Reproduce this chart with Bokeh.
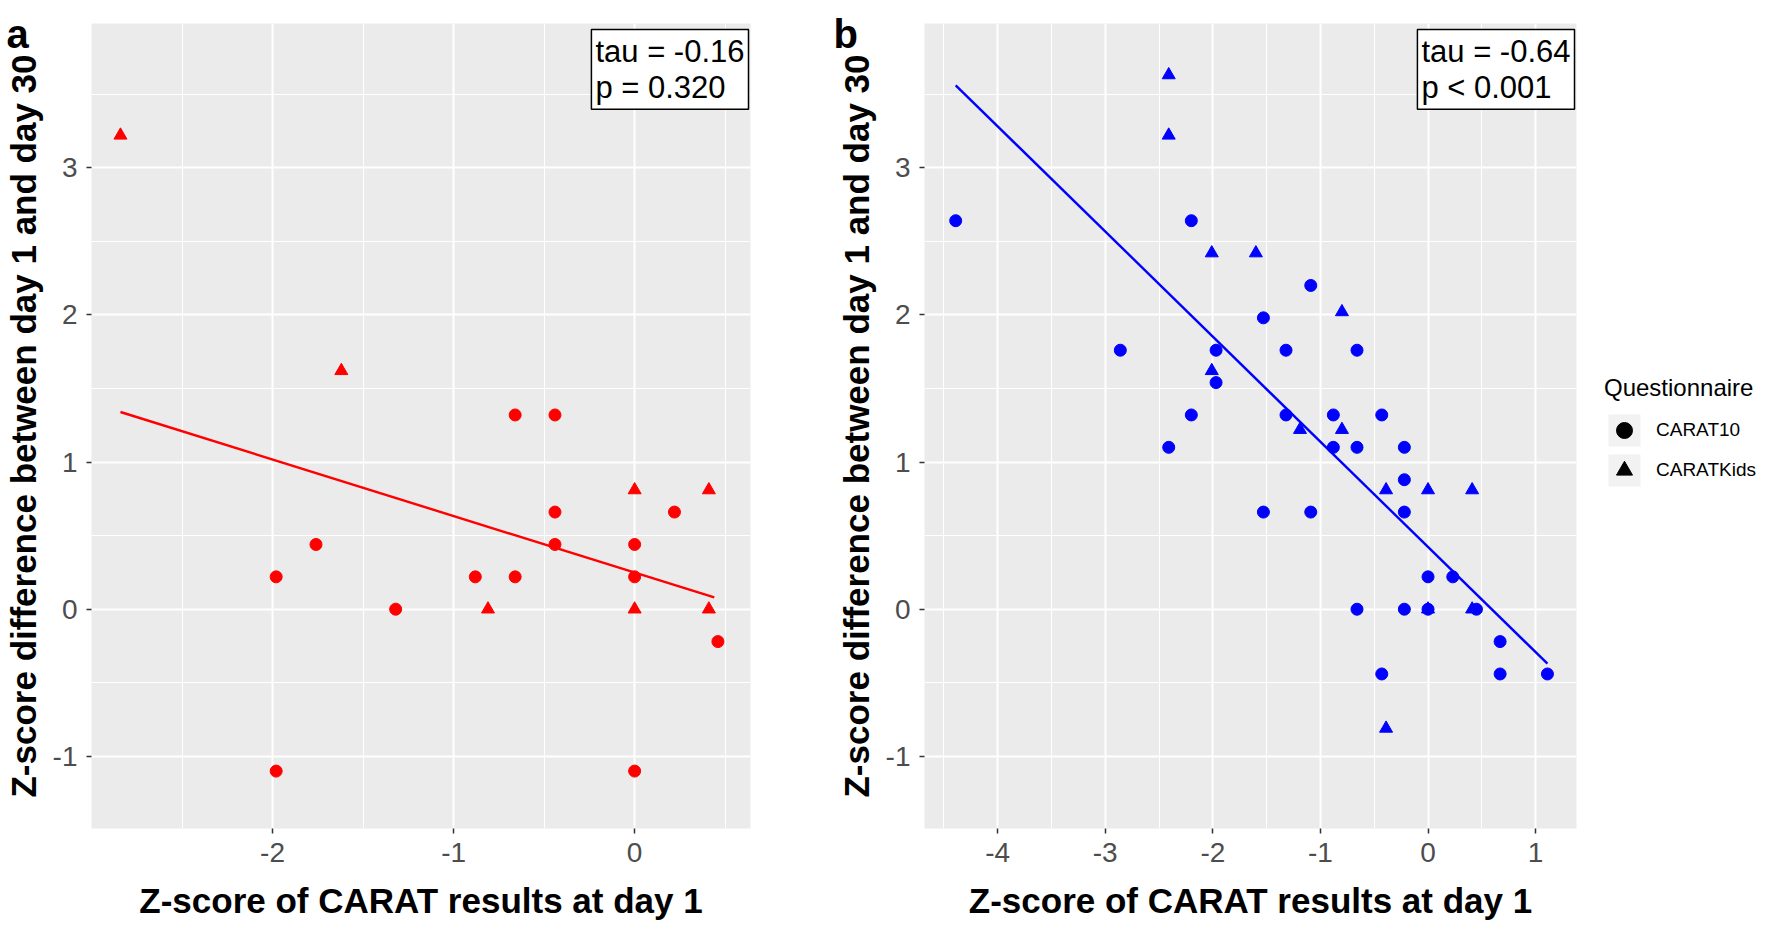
from bokeh.plotting import figure
from bokeh.models import (Range1d, FixedTicker, Label, Legend, LegendItem, Title)
from bokeh.layouts import row
from bokeh.embed import file_html
from bokeh.resources import INLINE

FONT = "Liberation Sans"

# ---------------- data ----------------
a_circle_x = [-1.98, -1.98, -1.76, -1.32, -0.88, -0.66, -0.66, -0.44, -0.44, -0.44, 0.0, 0.0, 0.0, 0.22, 0.46]
a_circle_y = [0.22, -1.10, 0.44, 0.0, 0.22, 1.32, 0.22, 1.32, 0.66, 0.44, 0.44, 0.22, -1.10, 0.66, -0.22]
a_tri_x = [-2.84, -1.62, -0.81, 0.0, 0.0, 0.41, 0.41]
a_tri_y = [3.22, 1.62, 0.0, 0.81, 0.0, 0.81, 0.0]
a_fit_x = [-2.84, 0.44]
a_fit_y = [1.34, 0.08]
a_stats = "tau = -0.16\np = 0.320"

b_circle_x = [-4.39, -2.86, -2.41, -2.20, -2.20, -1.97, -1.97, -1.53, -1.53, -1.32, -1.32, -1.09, -1.09,
              -0.88, -0.88, -0.66, -0.66, -0.66, -0.43, -0.43, -0.22, -0.22, -0.22, -0.22, 0.0, 0.0,
              0.23, 0.45, 0.67, 0.67, 1.11]
b_circle_y = [2.64, 1.76, 1.10, 2.64, 1.32, 1.76, 1.54, 1.98, 0.66, 1.76, 1.32, 2.20, 0.66,
              1.32, 1.10, 1.76, 1.10, 0.0, 1.32, -0.44, 1.10, 0.88, 0.66, 0.0, 0.22, 0.0,
              0.22, 0.0, -0.22, -0.44, -0.44]
b_tri_x = [-2.41, -2.41, -2.01, -1.60, -2.01, -1.19, -0.80, -0.80, -0.39, -0.39, 0.0, 0.0, 0.41, 0.41]
b_tri_y = [3.63, 3.22, 2.42, 2.42, 1.62, 1.22, 2.02, 1.22, 0.81, -0.81, 0.81, 0.0, 0.81, 0.0]
b_fit_x = [-4.39, 1.11]
b_fit_y = [3.56, -0.37]
b_stats = "tau = -0.64\np < 0.001"

a_xticks = [-2, -1, 0]
a_xminor = [-2.5, -1.5, -0.5, 0.5]
b_xticks = [-4, -3, -2, -1, 0, 1]
b_xminor = [-4.5, -3.5, -2.5, -1.5, -0.5, 0.5]
y_ticks = [-1, 0, 1, 2, 3]
y_minor = [-0.5, 0.5, 1.5, 2.5, 3.5]

x_title = "Z-score of CARAT results at day 1"
y_title = "Z-score difference between day 1 and day 30"
legend_title = "Questionnaire"
groups = ["CARAT10", "CARATKids"]

FRAME_H = 805


def make_panel(tag, tag_dx, color, cx, cy, tx, ty, fx, fy, stats, xr, xt, xm, frame_w, left, right):
    p = figure(frame_width=frame_w, frame_height=FRAME_H,
               x_range=Range1d(*xr), y_range=Range1d(-1.49, 3.98),
               output_backend="svg", toolbar_location=None,
               min_border_left=left, min_border_right=right,
               min_border_top=23, min_border_bottom=0)
    p.background_fill_color = "#EBEBEB"
    p.border_fill_color = "white"
    p.outline_line_color = None

    p.xaxis.ticker = FixedTicker(ticks=xt, minor_ticks=xm)
    p.yaxis.ticker = FixedTicker(ticks=y_ticks, minor_ticks=y_minor)
    p.xaxis.major_label_overrides = {t: str(t) for t in xt}
    p.yaxis.major_label_overrides = {t: str(t) for t in y_ticks}
    for ax in (p.xaxis[0], p.yaxis[0]):
        ax.axis_line_color = None
        ax.major_tick_line_color = "#333333"
        ax.major_tick_line_width = 1.5
        ax.major_tick_out = 5
        ax.major_tick_in = 0
        ax.minor_tick_line_color = None
        ax.major_label_text_font = FONT
        ax.major_label_text_font_size = "28px"
        ax.major_label_text_color = "#4D4D4D"
        ax.axis_label_text_font = FONT
        ax.axis_label_text_font_style = "bold"
        ax.axis_label_text_color = "black"
        ax.axis_label_text_font_size = "35px"
    p.xaxis.axis_label = x_title
    p.yaxis.axis_label = y_title
    p.xaxis.major_label_standoff = 9
    p.yaxis.major_label_standoff = 9
    p.xaxis.axis_label_standoff = 16
    p.yaxis.axis_label_standoff = 7

    for g in (p.xgrid[0], p.ygrid[0]):
        g.grid_line_color = "white"
        g.grid_line_width = 2
        g.minor_grid_line_color = "white"
        g.minor_grid_line_width = 1

    p.line(fx, fy, line_color=color, line_width=2.4)
    p.scatter(cx, cy, marker="circle", size=12, fill_color=color, line_color=color)
    p.scatter(tx, ty, marker="triangle", size=13, fill_color=color, line_color=color)

    p.add_layout(Label(x=frame_w - 2, y=FRAME_H - 6, x_units="screen", y_units="screen",
                       text=stats, anchor="top_right", text_align="left",
                       text_font=FONT, text_font_size="31px", text_color="black",
                       background_fill_color="white", border_line_color="black",
                       border_line_width=1.5, padding=4, text_line_height=1.05))
    # panel tag ("a" / "b") as a title at the top-left corner
    p.add_layout(Title(text=tag, align="left", vertical_align="bottom",
                       offset=-tag_dx, standoff=-64,
                       text_font=FONT, text_font_style="bold",
                       text_font_size="40px", text_color="black"), "above")
    return p


pa = make_panel("a", 85, "#FF0000", a_circle_x, a_circle_y, a_tri_x, a_tri_y, a_fit_x, a_fit_y,
                a_stats, (-3.0, 0.64), a_xticks, a_xminor, 659, 87, 14)
pb = make_panel("b", 91, "#0000FF", b_circle_x, b_circle_y, b_tri_x, b_tri_y, b_fit_x, b_fit_y,
                b_stats, (-4.68, 1.38), b_xticks, b_xminor, 652, 160, 4)

# legend panel (black keys on light grey squares, like ggplot); the key
# renderers are hidden proxies built from panel b's data
pc = figure(width=180, height=911, output_backend="svg", toolbar_location=None,
            x_axis_type=None, y_axis_type=None, x_range=Range1d(10, 11), y_range=Range1d(10, 11),
            min_border=0)
pc.outline_line_color = None
pc.background_fill_color = "white"
pc.border_fill_color = "white"
items = []
for lab, mk, xs, ys in zip(groups, ["circle", "triangle"], [b_circle_x, b_tri_x], [b_circle_y, b_tri_y]):
    bg = pc.quad(left=xs, right=xs, top=ys, bottom=ys, fill_color="#F2F2F2", line_color=None)
    mr = pc.scatter(x=xs, y=ys, marker=mk, fill_color="black", line_color="black")
    items.append(LegendItem(label=lab, renderers=[bg, mr]))
leg = Legend(items=items, title=legend_title, location=(24, 327),
             title_text_font=FONT, title_text_font_size="24px", title_text_font_style="normal",
             title_text_color="black", title_standoff=8,
             label_text_font=FONT, label_text_font_size="19px", label_text_color="black",
             glyph_width=40, glyph_height=40, label_standoff=12, spacing=0,
             background_fill_alpha=0, border_line_color=None, margin=0, padding=6)
pc.add_layout(leg)

layout = row(pa, pb, pc)
open("out.html", "w").write(file_html(layout, INLINE))
